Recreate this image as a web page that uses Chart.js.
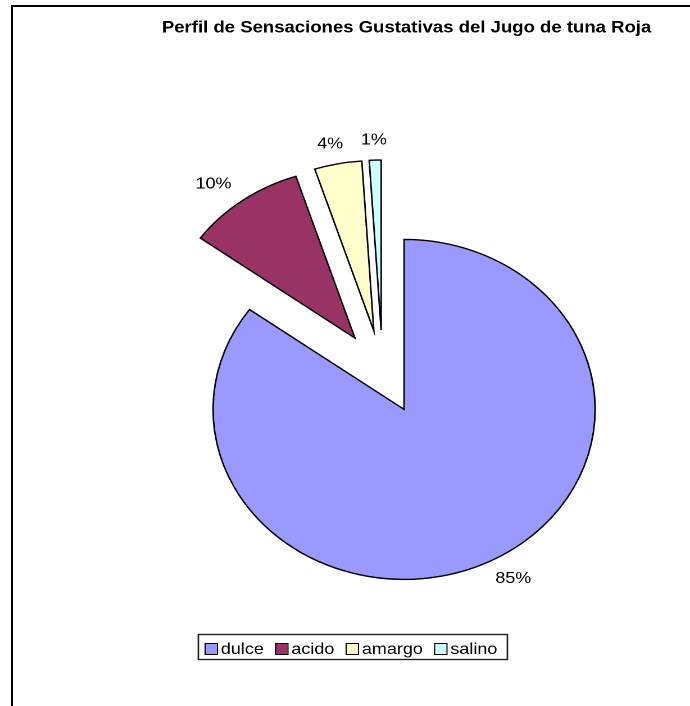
<!DOCTYPE html>
<html>
<head>
<meta charset="utf-8">
<script src="https://cdn.jsdelivr.net/npm/chart.js@4/dist/chart.umd.min.js"></script>
<style>
  html, body { margin: 0; padding: 0; background: #fff; overflow: hidden; }
  #frame {
    position: absolute; left: 11px; top: 5px; width: 720px; height: 740px;
    border-left: 2px solid #000; border-top: 2px solid #000;
  }
  /* el original está estirado en horizontal: se estira todo el lienzo */
  #wrap {
    position: absolute; left: 0; top: 0; width: 614px; height: 706px;
    transform: scaleX(1.1238); transform-origin: 0 0;
  }
</style>
</head>
<body>
<div id="frame"></div>
<div id="wrap"><canvas id="pie"></canvas></div>
<script>
// Datos del gráfico
const sabores = ["dulce", "acido", "amargo", "salino"];
const porcentajes = [85, 10, 4, 1];
const colores = ["#9999FF", "#993366", "#FFFFCC", "#CCFFFF"];
const titulo = "Perfil de Sensaciones Gustativas del Jugo de tuna Roja";

// Estilo / geometría (unidades del lienzo sin estirar)
const FONT = "'Liberation Sans', Arial, sans-serif";
const PIE_RADIUS = 170;
const EXPLODE = 42;      // separación de cada porción
const LABEL_GAP = 20;

// Dibuja las porciones separadas, los porcentajes, el título y la leyenda
const explodedPie = {
  id: "explodedPie",
  beforeDatasetsDraw(chart) {
    const ctx = chart.ctx;
    const meta = chart.getDatasetMeta(0);
    const cx = meta.data[0].x;
    const cy = meta.data[0].y;

    meta.data.forEach((arc) => {
      const mid = (arc.startAngle + arc.endAngle) / 2;
      ctx.save();
      ctx.translate(Math.cos(mid) * EXPLODE, Math.sin(mid) * EXPLODE);
      arc.draw(ctx);
      ctx.restore();
    });

    // etiquetas de porcentaje
    const total = porcentajes.reduce((a, b) => a + b, 0);
    ctx.save();
    ctx.font = "16px " + FONT;
    ctx.fillStyle = "#000";
    ctx.textAlign = "center";
    ctx.textBaseline = "middle";
    meta.data.forEach((arc, i) => {
      const mid = (arc.startAngle + arc.endAngle) / 2;
      const ux = Math.cos(mid), uy = Math.sin(mid);
      const txt = Math.round((porcentajes[i] / total) * 100) + "%";
      const w = ctx.measureText(txt).width;
      const r = EXPLODE + arc.outerRadius + LABEL_GAP;
      ctx.fillText(txt, cx + ux * (r + w * 0.75), cy + uy * r);
    });
    ctx.restore();
    return false;
  },
  afterDraw(chart) {
    const ctx = chart.ctx;
    // título
    ctx.save();
    ctx.font = "bold 16.5px " + FONT;
    ctx.fillStyle = "#000";
    ctx.textAlign = "left";
    ctx.textBaseline = "alphabetic";
    ctx.fillText(titulo, 144, 32.5);
    ctx.restore();

    // leyenda con recuadro, como en Excel
    const lx = 176, ly = 634, lw = 275, lh = 25;
    ctx.save();
    ctx.strokeStyle = "#222";
    ctx.lineWidth = 1.4;
    ctx.strokeRect(lx + 0.5, ly + 0.5, lw, lh);
    ctx.font = "16px " + FONT;
    ctx.textBaseline = "alphabetic";
    ctx.textAlign = "left";
    let x = lx + 6;
    sabores.forEach((s, i) => {
      ctx.fillStyle = colores[i];
      ctx.fillRect(x, ly + 9, 11, 11);
      ctx.strokeStyle = "#000";
      ctx.lineWidth = 1;
      ctx.strokeRect(x + 0.5, ly + 9.5, 11, 11);
      ctx.fillStyle = "#000";
      ctx.fillText(s, x + 14.5, ly + 20);
      x += 14.5 + ctx.measureText(s).width + 10;
    });
    ctx.restore();
  },
};

const ctx = document.getElementById("pie").getContext("2d");
new Chart(ctx, {
  type: "pie",
  data: {
    labels: sabores,
    datasets: [
      {
        data: porcentajes,
        backgroundColor: colores,
        borderColor: "#000",
        borderWidth: 1.4,
        borderJoinStyle: "miter",
        hoverOffset: 0,
        radius: PIE_RADIUS,
      },
    ],
  },
  options: {
    responsive: true,
    maintainAspectRatio: false,
    devicePixelRatio: 2,
    animation: false,
    layout: { padding: { left: 144, right: 77, top: 47.6, bottom: 9.6 } },
    plugins: {
      legend: { display: false },
      tooltip: { enabled: false },
      title: { display: false },
    },
  },
  plugins: [explodedPie],
});
</script>
</body>
</html>
